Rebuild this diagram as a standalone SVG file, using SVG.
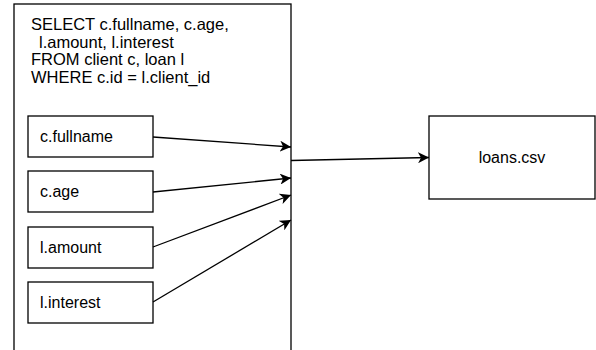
<svg xmlns="http://www.w3.org/2000/svg" width="596" height="350" viewBox="0 0 596 350">
  <style>
    .box { fill: #ffffff; stroke: #000000; stroke-width: 1.3; }
    .lbl { font-family: "Liberation Sans", Arial, sans-serif; font-size: 16px; fill: #000000; }
    .sql { font-size: 16.5px; }
    .edge { fill: none; stroke: #000000; stroke-width: 1.3; marker-end: url(#arrow); }
  </style>
  <defs>
    <marker id="arrow" markerWidth="12" markerHeight="11" refX="11" refY="5.5" orient="auto" markerUnits="userSpaceOnUse">
      <path d="M0,0 L11,5.5 L0,11 L3,5.5 Z" fill="#000000"/>
    </marker>
  </defs>

  <!-- query container (runs off the bottom edge) -->
  <g id="query">
    <rect class="box" x="14" y="4" width="277" height="360"/>
    <text class="lbl sql">
      <tspan x="31" y="30">SELECT c.fullname, c.age,</tspan>
      <tspan x="39" y="47.5">l.amount, l.interest</tspan>
      <tspan x="31" y="65">FROM client c, loan l</tspan>
      <tspan x="31" y="82.5">WHERE c.id = l.client_id</tspan>
    </text>
  </g>

  <g id="fullname">
    <rect class="box" x="28" y="116" width="125" height="41"/>
    <text class="lbl" x="40" y="142">c.fullname</text>
  </g>
  <g id="age">
    <rect class="box" x="28" y="171" width="125" height="41"/>
    <text class="lbl" x="40" y="197">c.age</text>
  </g>
  <g id="amount">
    <rect class="box" x="28" y="227" width="125" height="41"/>
    <text class="lbl" x="40" y="253">l.amount</text>
  </g>
  <g id="interest">
    <rect class="box" x="28" y="282" width="125" height="41"/>
    <text class="lbl" x="40" y="308">l.interest</text>
  </g>

  <g id="loans">
    <rect class="box" x="429" y="116" width="166" height="83"/>
    <text class="lbl" x="512" y="163" text-anchor="middle">loans.csv</text>
  </g>

  <g id="connectors">
    <path class="edge" d="M153,137 L291,147"/>
    <path class="edge" d="M153,192 L291,178"/>
    <path class="edge" d="M153,247 L291,195"/>
    <path class="edge" d="M153,302 L291,220"/>
    <path class="edge" d="M291,160.5 L429,157.5"/>
  </g>
</svg>
